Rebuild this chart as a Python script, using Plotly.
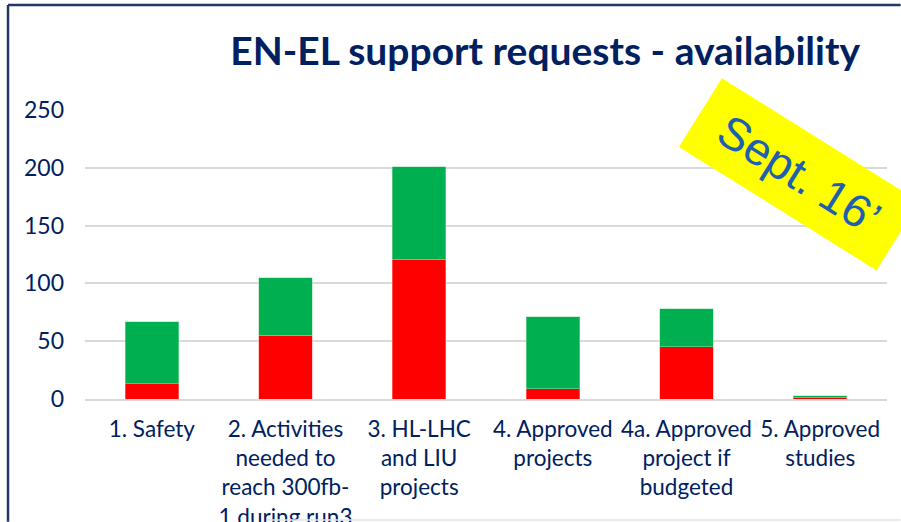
import plotly.graph_objects as go

# categories and stacked values
categories = [
    "1. Safety",
    "2. Activities<br>needed to<br>reach 300fb-<br>1 during run3",
    "3. HL-LHC<br>and LIU<br>projects",
    "4. Approved<br>projects",
    "4a. Approved<br>project if<br>budgeted",
    "5. Approved<br>studies",
]
not_available = [13, 55, 121, 9, 45, 1]
available = [54, 50, 80, 62, 33, 2]

navy = "#002060"
font = "Lato"

fig = go.Figure()
fig.add_trace(go.Bar(x=categories, y=not_available, name="not available",
                     marker=dict(color="#FF0000", line=dict(color="#FF9999", width=0.5))))
fig.add_trace(go.Bar(x=categories, y=available, name="available",
                     marker=dict(color="#00B050", line=dict(color="#99DDB0", width=0.5))))

fig.update_layout(
    barmode="stack",
    bargap=0.6,
    width=901, height=522,
    margin=dict(l=85, r=14, t=110, b=123),
    paper_bgcolor="white",
    plot_bgcolor="white",
    showlegend=False,
    font=dict(family=font, color=navy),
    title=dict(text="<b>EN-EL support requests - availability</b>",
               x=0.605, xanchor="center", y=0.902, yanchor="middle",
               font=dict(family=font, size=39, color=navy)),
)
fig.update_yaxes(range=[0, 250], dtick=50, showgrid=True, gridcolor="#D9D9D9",
                 gridwidth=1.5, zeroline=False, showline=False, automargin=False,
                 tickfont=dict(size=23, color=navy), ticklabelstandoff=20)
fig.update_xaxes(showgrid=False, showline=True, linecolor="#D9D9D9", linewidth=1.5,
                 automargin=False,
                 tickfont=dict(size=22.5, color=navy), ticklabelstandoff=9)

# slide frame (kept inside the figure)
fig.add_shape(type="line", xref="paper", yref="paper", x0=-0.096, x1=1.017,
              y0=1.363, y1=1.363, line=dict(color="#203864", width=2.5))
fig.add_shape(type="line", xref="paper", yref="paper", x0=-0.096, x1=-0.096,
              y0=1.363, y1=-0.425, line=dict(color="#203864", width=2.5))
fig.add_shape(type="line", xref="paper", yref="paper", x0=0.227, x1=1.017,
              y0=-0.419, y1=-0.419, line=dict(color="#E2E2EE", width=1.5))

# rotated yellow sticker
fig.add_annotation(text="Sept. 16’", xref="paper", yref="paper",
                   x=0.8897, y=0.777, xanchor="center", yanchor="middle",
                   showarrow=False, textangle=32, width=230, height=78,
                   bgcolor="#FFFF00",
                   font=dict(family="Liberation Sans", size=46, color="#1F5FAF"))

fig.write_html("out.html", config={"displayModeBar": False},
               post_script="document.body.style.margin='0';document.body.style.overflow='hidden';")
